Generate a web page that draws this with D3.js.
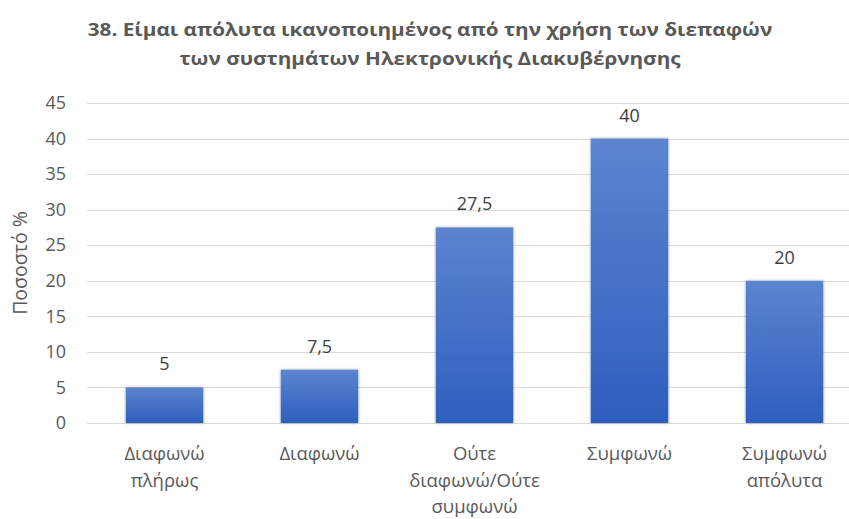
<!DOCTYPE html>
<html>
<head>
<meta charset="utf-8">
<script src="https://cdn.jsdelivr.net/npm/d3@7"></script>
<style>
  body { margin: 0; background: #fff; }
  svg { display: block; }
</style>
</head>
<body>
<svg id="chart" width="849" height="519"></svg>
<script>
// Survey answers (percent of respondents)
const categories = [
  ["Διαφωνώ", "πλήρως"],
  ["Διαφωνώ"],
  ["Ούτε", "διαφωνώ/Ούτε", "συμφωνώ"],
  ["Συμφωνώ"],
  ["Συμφωνώ", "απόλυτα"]
];
const values = [5, 7.5, 27.5, 40, 20];
const valueLabels = ["5", "7,5", "27,5", "40", "20"];
const yTicks = [0, 5, 10, 15, 20, 25, 30, 35, 40, 45];
const titleLines = [
  "38. Είμαι απόλυτα ικανοποιημένος από την χρήση των διεπαφών",
  "των συστημάτων Ηλεκτρονικής Διακυβέρνησης"
];
const yAxisTitle = "Ποσοστό %";

const svg = d3.select("#chart");
const W = 849;
const plot = { left: 87, right: 862, top: 103, bottom: 423 };
const font = "'Open Sans', 'Noto Sans', sans-serif";
const textColor = "#595959";

const x = d3.scaleBand()
  .domain(d3.range(values.length))
  .range([plot.left, plot.right])
  .paddingInner(0.5)
  .paddingOuter(0.25);

const y = d3.scaleLinear().domain([0, 45]).range([plot.bottom, plot.top]);

// bar gradient
const defs = svg.append("defs");
const grad = defs.append("linearGradient")
  .attr("id", "barGrad").attr("x1", 0).attr("y1", 0).attr("x2", 0).attr("y2", 1);
grad.append("stop").attr("offset", "0%").attr("stop-color", "#5c84cf");
grad.append("stop").attr("offset", "100%").attr("stop-color", "#2e5fbf");

const shadow = defs.append("filter").attr("id", "shadow")
  .attr("x", "-20%").attr("y", "-20%").attr("width", "140%").attr("height", "140%");
shadow.append("feGaussianBlur").attr("in", "SourceAlpha").attr("stdDeviation", 1.5).attr("result", "b");
shadow.append("feComponentTransfer").attr("in", "b").attr("result", "s")
  .append("feFuncA").attr("type", "linear").attr("slope", 0.35);
const merge = shadow.append("feMerge");
merge.append("feMergeNode").attr("in", "s");
merge.append("feMergeNode").attr("in", "SourceGraphic");

// gridlines
svg.append("g")
  .selectAll("line")
  .data(yTicks)
  .join("line")
  .attr("x1", plot.left).attr("x2", W)
  .attr("y1", d => Math.round(y(d)) + 0.5).attr("y2", d => Math.round(y(d)) + 0.5)
  .attr("stroke", "#d9d9d9").attr("stroke-width", 1);

// y axis tick labels
const yAxis = d3.axisLeft(y).tickValues(yTicks).tickSize(0).tickPadding(0);
const gy = svg.append("g").attr("transform", `translate(66,0)`).call(yAxis);
gy.select(".domain").remove();
gy.selectAll("text")
  .attr("font-family", font).attr("font-size", 18).attr("fill", textColor);

// y axis title
svg.append("text")
  .attr("transform", `translate(27,${(plot.top + plot.bottom) / 2}) rotate(-90)`)
  .attr("text-anchor", "middle")
  .attr("font-family", font).attr("font-size", 19.5).attr("fill", textColor)
  .text(yAxisTitle);

// bars
svg.append("g")
  .selectAll("rect")
  .data(values)
  .join("rect")
  .attr("x", (d, i) => x(i))
  .attr("width", x.bandwidth())
  .attr("y", d => y(d))
  .attr("height", d => y(0) - y(d))
  .attr("fill", "url(#barGrad)")
  .attr("filter", "url(#shadow)");

// value labels
svg.append("g")
  .selectAll("text")
  .data(values)
  .join("text")
  .attr("x", (d, i) => x(i) + x.bandwidth() / 2)
  .attr("y", d => y(d) - 17)
  .attr("text-anchor", "middle")
  .attr("font-family", font).attr("font-size", 18).attr("fill", "#404040")
  .text((d, i) => valueLabels[i]);

// category labels
const xAxis = d3.axisBottom(x).tickSize(0).tickFormat(() => "");
const gx = svg.append("g").attr("transform", `translate(0,${plot.bottom})`).call(xAxis);
gx.select(".domain").remove();
gx.selectAll(".tick text").remove();
gx.selectAll(".tick")
  .append("text")
  .attr("text-anchor", "middle")
  .attr("font-family", font).attr("font-size", 18.5).attr("fill", textColor)
  .selectAll("tspan")
  .data(i => categories[i])
  .join("tspan")
  .attr("x", 0)
  .attr("y", (d, j) => 37 + j * 26.5)
  .text(d => d);

// title, slightly widened
svg.append("g")
  .attr("transform", "translate(430,0) scale(1.12,1)")
  .append("text")
  .attr("text-anchor", "middle")
  .attr("font-family", font).attr("font-weight", "bold").attr("font-size", 18.5)
  .attr("fill", textColor)
  .selectAll("tspan")
  .data(titleLines)
  .join("tspan")
  .attr("x", 0)
  .attr("y", (d, j) => 36.5 + j * 28.5)
  .text(d => d);
</script>
</body>
</html>
